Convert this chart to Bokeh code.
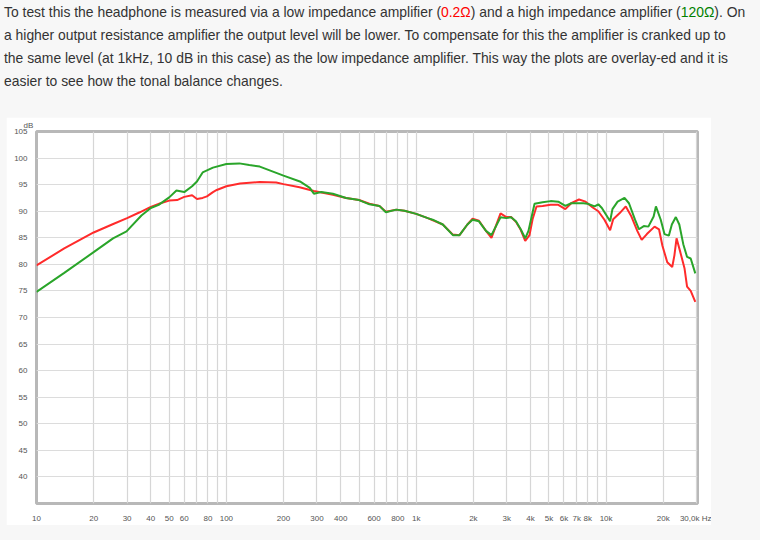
from bokeh.plotting import figure
from bokeh.models import (ColumnDataSource, FixedTicker, Div, Range1d,
                          GlobalInlineStyleSheet)
from bokeh.layouts import column
from bokeh.embed import file_html
from bokeh.resources import INLINE

# ---- data ----
freq_red = [10, 14, 20, 25, 30, 35, 40, 45, 50, 55, 60, 66, 70, 75, 79, 85, 89, 100,
            118, 150, 183, 200, 243, 289, 364, 427, 500, 567, 640, 692, 785, 867,
            1000, 1150, 1380, 1560, 1690, 1860, 1980, 2140, 2330, 2490, 2780, 2980,
            3160, 3350, 3550, 3750, 3950, 4100, 4300, 4630, 5100, 5600, 6100, 6550,
            7200, 7800, 8500, 9100, 9800, 10500, 10900, 11800, 12700, 13600, 14600,
            15400, 16400, 18000, 19000, 19800, 21000, 22300, 22900, 23500, 24600,
            25900, 26700, 27900, 29500]
db_red = [79.8, 83.0, 86.0, 87.5, 88.7, 89.8, 90.8, 91.5, 92.0, 92.1, 92.7, 93.0, 92.3,
          92.5, 92.8, 93.6, 94.0, 94.7, 95.2, 95.5, 95.4, 95.1, 94.5, 93.8, 93.1, 92.5,
          92.1, 91.4, 91.0, 89.9, 90.3, 90.1, 89.5, 88.7, 87.5, 85.6, 85.5, 87.5, 88.6,
          88.2, 86.3, 85.0, 89.6, 88.9, 88.9, 88.0, 86.5, 84.4, 85.5, 88.5, 90.9, 91.0,
          91.2, 91.2, 90.4, 91.5, 92.2, 91.8, 90.7, 90.0, 88.4, 86.4, 88.5, 89.65, 90.9,
          89.0, 86.3, 84.6, 85.7, 87.1, 86.6, 83.5, 80.4, 79.5, 81.7, 84.9, 82.3, 79.2,
          75.8, 75.0, 72.95]

freq_green = [10, 14, 20, 25.3, 29.8, 35.7, 40, 44, 50, 54.6, 60, 66, 70, 75, 85, 100,
              117, 132, 150, 200, 244, 275, 289, 316, 364, 427, 500, 567, 640, 692, 785,
              867, 1000, 1150, 1220, 1380, 1560, 1690, 1860, 1980, 2140, 2330, 2490,
              2780, 2980, 3160, 3350, 3550, 3750, 3900, 4200, 4630, 5100, 5600, 6100,
              6550, 7600, 8000, 8700, 9100, 9500, 10500, 10800, 11500, 12500, 13200,
              14200, 14900, 15800, 16700, 17800, 18300, 19400, 20300, 21400, 22200,
              23300, 24300, 25500, 26700, 27900, 29500]
db_green = [74.8, 78.4, 82.3, 84.9, 86.2, 89.2, 90.6, 91.2, 92.6, 93.9, 93.6, 94.7, 95.6,
            97.3, 98.2, 98.9, 99.0, 98.7, 98.4, 96.7, 95.6, 94.4, 93.3, 93.6, 93.3, 92.5,
            92.1, 91.3, 91.0, 89.8, 90.3, 90.1, 89.5, 88.7, 88.4, 87.5, 85.5, 85.5, 87.5,
            88.4, 88.1, 86.3, 85.5, 88.85, 88.7, 88.85, 88.1, 86.6, 84.9, 86.3, 91.4, 91.7,
            91.9, 91.8, 91.0, 91.5, 91.5, 91.4, 90.9, 91.3, 90.6, 88.1, 90.4, 91.8, 92.5,
            91.5, 88.4, 86.6, 87.2, 87.1, 89.0, 90.9, 88.4, 85.7, 85.4, 87.5, 88.9, 87.5,
            83.8, 81.4, 81.1, 78.3]

y_ticks = [40, 45, 50, 55, 60, 65, 70, 75, 80, 85, 90, 95, 100, 105]
x_ticks = [10, 20, 30, 40, 50, 60, 70, 80, 90, 100, 200, 300, 400, 500, 600, 700, 800,
           900, 1000, 2000, 3000, 4000, 5000, 6000, 7000, 8000, 9000, 10000, 20000, 30000]
x_tick_labels = ["10", "20", "30", "40", "50", "60", "", "80", "", "100", "200", "300",
                 "400", "", "600", "", "800", "", "1k", "2k", "3k", "4k", "5k", "6k",
                 "7k", "8k", "", "10k", "20k", "30,0k Hz"]

# ---- paragraph text ----
html = (
    '<div style="font-family:\'Liberation Sans\',Arial,sans-serif;font-size:13.9px;'
    'line-height:23px;color:#333;margin-top:1px;margin-left:4px;white-space:nowrap;">'
    'To test this the headphone is measured via a low impedance amplifier '
    '(<span style="color:#ff0000">0.2&#937;</span>) and a high impedance amplifier '
    '(<span style="color:#008000">120&#937;</span>). On<br>'
    'a higher output resistance amplifier the output level will be lower. To compensate '
    'for this the amplifier is cranked up to<br>'
    'the same level (at 1kHz, 10 dB in this case) as the low impedance amplifier. This way '
    'the plots are overlay-ed and it is<br>'
    'easier to see how the tonal balance changes.</div>'
)
div = Div(text=html, width=750, height=117, margin=(0, 0, 0, 0),
          stylesheets=[GlobalInlineStyleSheet(css="body{background:#f7f7f7;}")])

# ---- chart ----
p = figure(width=705, height=408, x_axis_type="log", output_backend="svg",
           toolbar_location=None, x_range=Range1d(10, 30300), y_range=Range1d(35, 105),
           min_border_left=30, min_border_right=14, min_border_top=13,
           min_border_bottom=15)
p.margin = (0, 0, 0, 6)
p.background_fill_color = "white"
p.border_fill_color = "white"
p.outline_line_color = "#b8b8b8"
p.outline_line_width = 3

p.title.text = "dB"
p.title.align = "left"
p.title.offset = -13
p.title.standoff = 3
p.title.text_font = "Liberation Sans"
p.title.text_font_size = "8px"
p.title.text_font_style = "normal"
p.title.text_color = "#555555"

p.xaxis.ticker = FixedTicker(ticks=x_ticks)
p.xaxis.major_label_overrides = {float(t): l for t, l in zip(x_ticks, x_tick_labels)}
p.yaxis.ticker = FixedTicker(ticks=y_ticks)
for ax in (p.xaxis[0], p.yaxis[0]):
    ax.axis_line_color = None
    ax.major_tick_line_color = None
    ax.minor_tick_line_color = None
    ax.major_label_text_font = "Liberation Sans"
    ax.major_label_text_font_size = "8px"
    ax.major_label_text_color = "#555555"
p.xaxis.major_label_standoff = 4
p.yaxis.major_label_standoff = 3

p.xgrid.grid_line_color = "#d6d6d6"
p.ygrid.grid_line_color = "#dcdcdc"
p.xgrid.grid_line_width = 1.2
p.ygrid.grid_line_width = 1.2

src_r = ColumnDataSource(dict(f=freq_red, db=db_red))
src_g = ColumnDataSource(dict(f=freq_green, db=db_green))
p.line("f", "db", source=src_r, line_color="#ff2b2b", line_width=2)
p.line("f", "db", source=src_g, line_color="#2aa52a", line_width=2)

layout = column(div, p)
open("out.html", "w").write(file_html(layout, INLINE))
